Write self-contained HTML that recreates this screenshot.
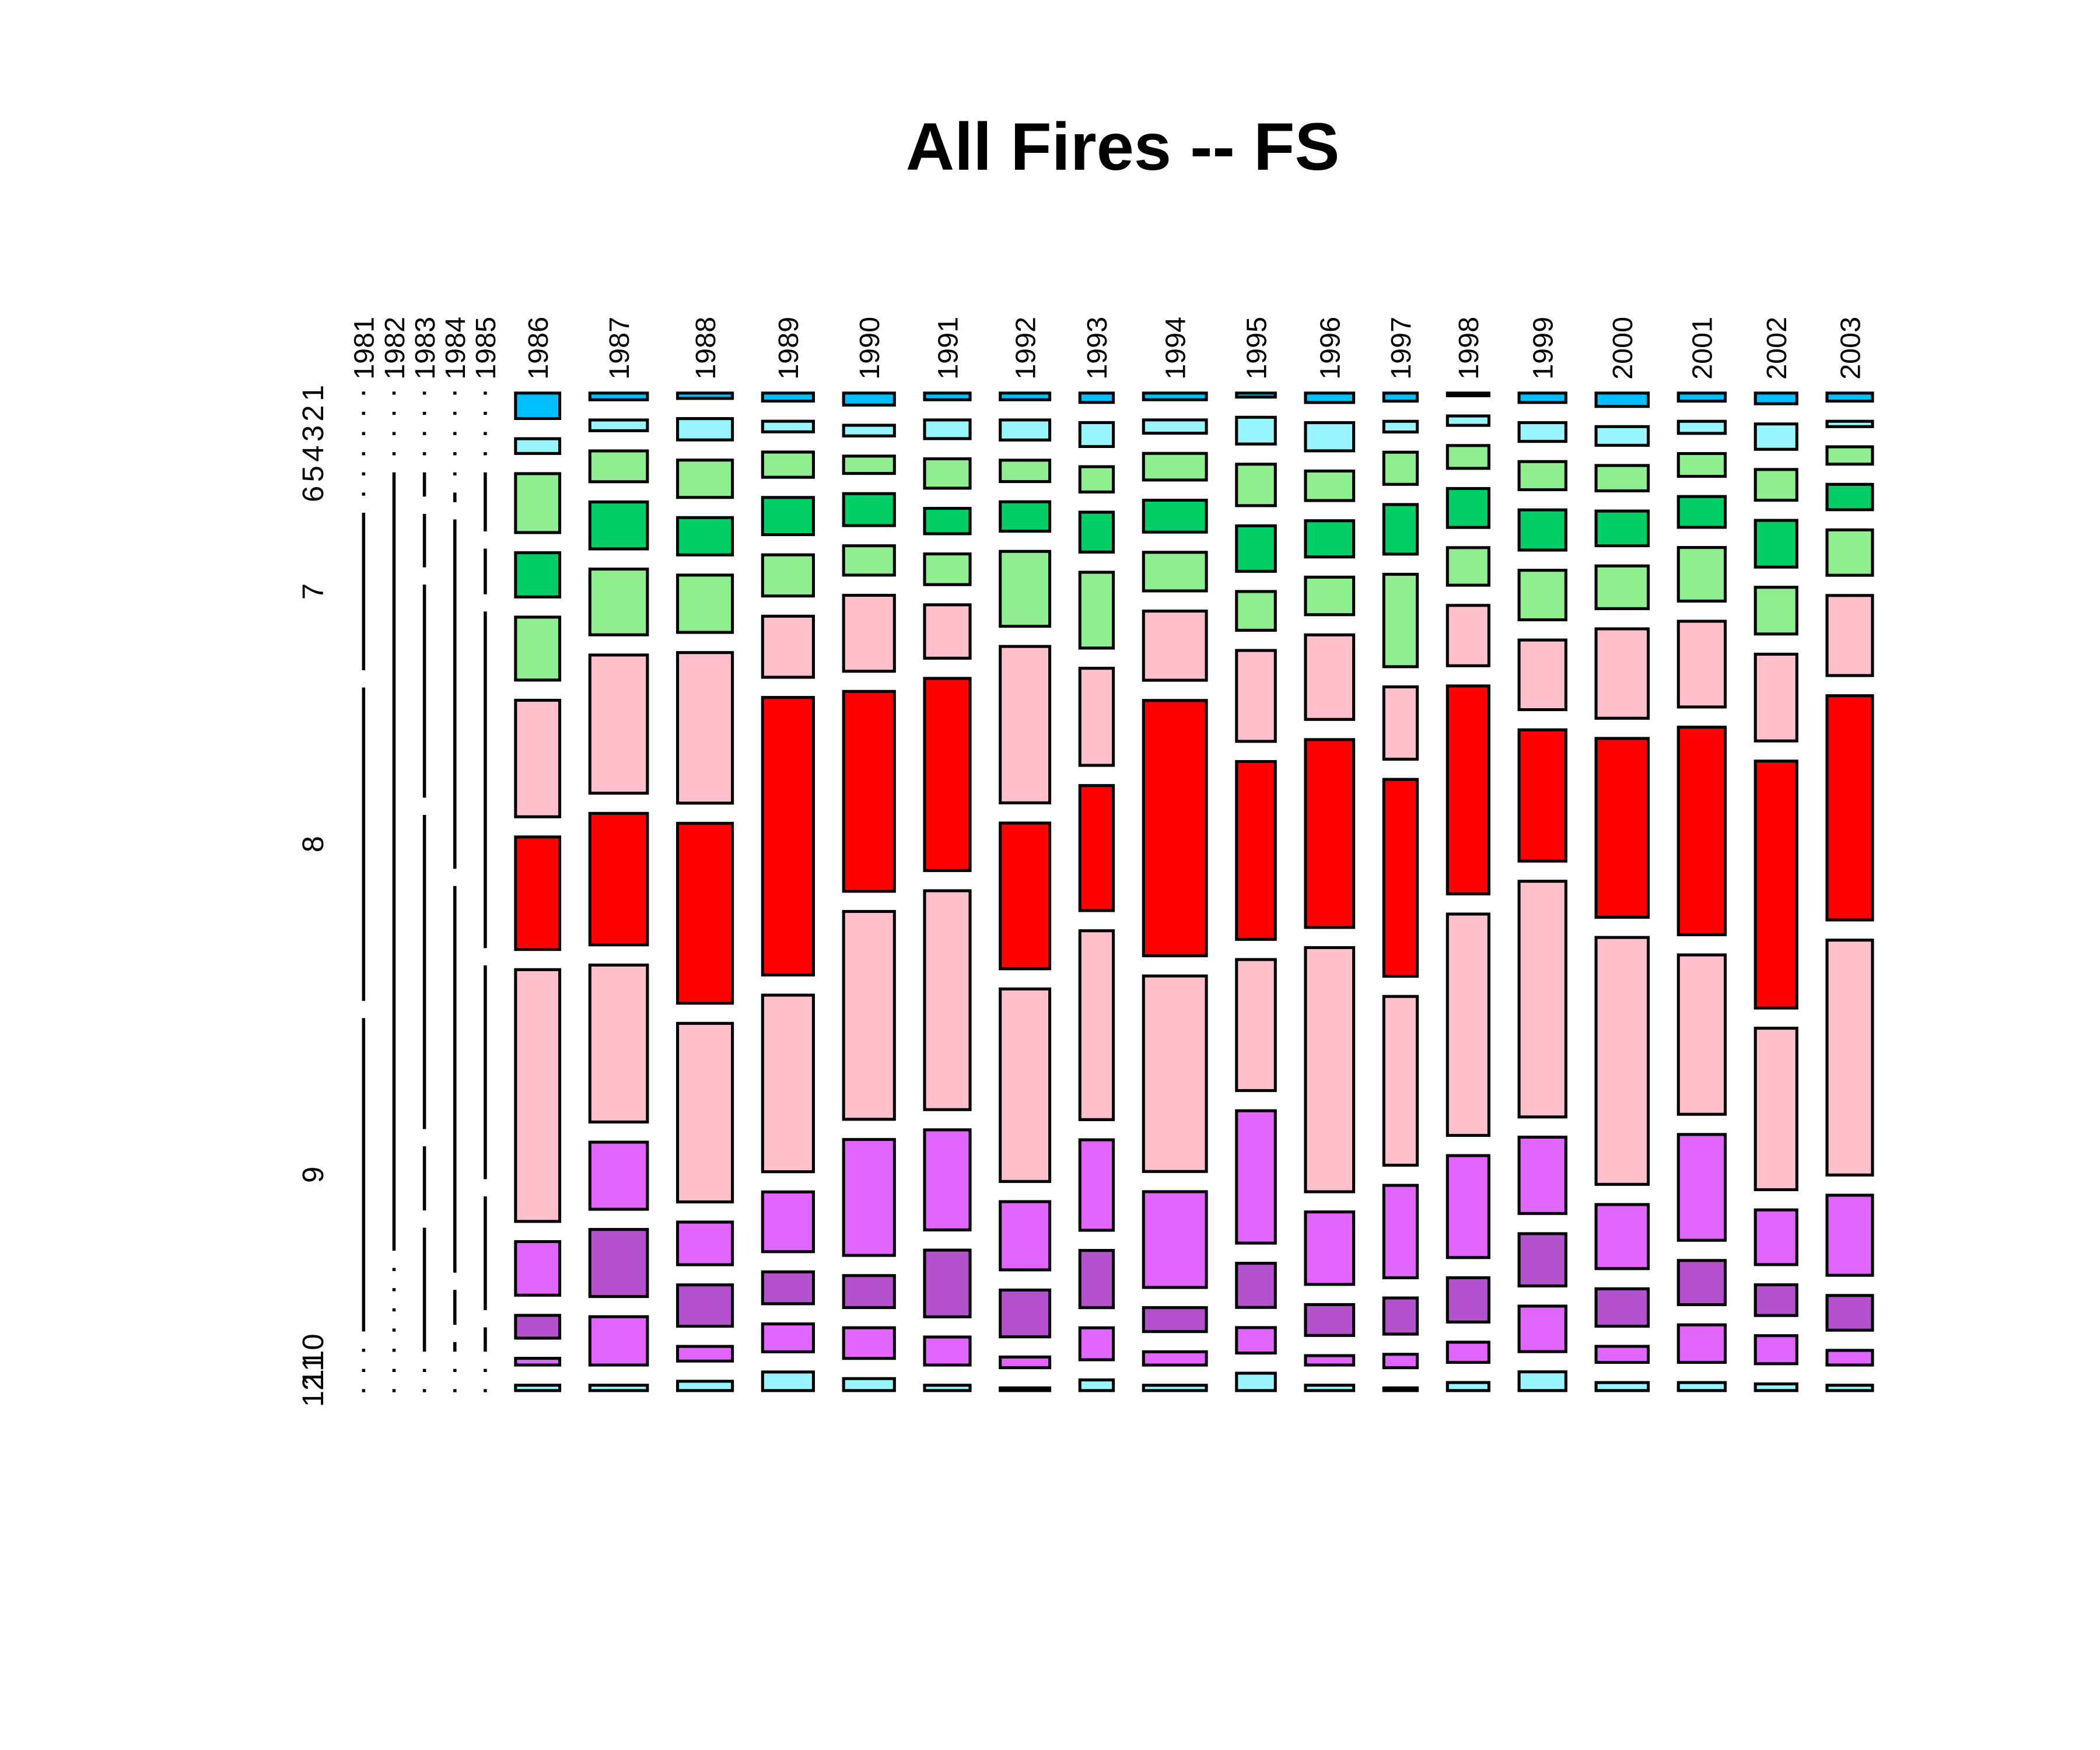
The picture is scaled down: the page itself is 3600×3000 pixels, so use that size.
<!DOCTYPE html>
<html><head><meta charset="utf-8">
<style>
html,body{margin:0;padding:0;background:#fff;}
svg{display:block;}
</style></head>
<body>
<svg id="chart" xmlns="http://www.w3.org/2000/svg" width="3600" height="3000" viewBox="0 0 1560 1300">
<rect x="0" y="0" width="1560" height="1300" fill="#fff"/>
<text x="834" y="126" text-anchor="middle" font-family="Liberation Sans, sans-serif" font-weight="bold" font-size="50">All Fires -- FS</text>
<g id="marks"></g>
<g id="labels"></g>
</svg>
<script>
const years = ["1981","1982","1983","1984","1985","1986","1987","1988","1989","1990","1991","1992","1993","1994","1995","1996","1997","1998","1999","2000","2001","2002","2003"];
const months = ["1","2","3","4","5","6","7","8","9","10","11","12"];
const yearTotals = [0.2,0.2,0.2,0.2,0.2,33,43,41,38,38,34,37,25,47,29,36,25,31,35,39,35,31,34];
const c1981 = [0,0,0,0,0,0,116,233,233,0,0,0];
const c1982 = [0,0,0,0,582,0,0,0,0,0,0,0];
const c1983 = [0,0,0,0,16,38,158,234,46,91,0,0];
const c1984 = [0,0,0,0,0,5,260,288,24,5,0,0];
const c1985 = [0,0,0,0,42,32,250,158,83,16,0,0];
const c1986 = [19,11,44,33,47,87,84,188,40,17,5,4];
const c1987 = [5,8,23,35,49,103,98,117,50,50,36,4];
const c1988 = [4,16,28,28,43,113,135,134,32,31,11,7];
const c1989 = [6,8,19,28,31,46,209,133,45,24,21,14];
const c1990 = [9,8,13,24,22,57,150,156,87,24,23,9];
const c1991 = [5,14,22,19,23,40,144,164,75,50,21,4];
const c1992 = [5,15,16,22,56,117,109,144,51,35,8,2];
const c1993 = [7,18,19,30,57,73,94,142,68,43,24,8];
const c1994 = [5,10,20,24,29,52,192,147,72,18,10,4];
const c1995 = [3,20,31,34,29,68,133,98,99,33,19,13];
const c1996 = [7,21,22,27,28,63,140,182,54,23,7,4];
const c1997 = [6,8,24,37,69,54,147,126,69,27,10,2];
const c1998 = [2,7,17,29,28,45,155,165,76,33,15,6];
const c1999 = [7,14,21,30,37,52,98,176,57,39,34,14];
const c2000 = [10,14,19,26,32,67,134,185,48,28,12,6];
const c2001 = [6,9,17,23,40,64,155,119,79,33,28,6];
const c2002 = [8,19,23,35,35,65,185,121,41,23,21,5];
const c2003 = [6,4,13,19,34,60,168,176,60,26,11,4];
const counts = [c1981,c1982,c1983,c1984,c1985,c1986,c1987,c1988,c1989,c1990,c1991,c1992,c1993,c1994,c1995,c1996,c1997,c1998,c1999,c2000,c2001,c2002,c2003];
const monthColors = ["#00BFFF","#98F5FF","#90EE90","#00CD66","#90EE90","#FFC0CB","#FF0000","#FFC0CB","#E066FF","#B452CD","#E066FF","#98F5FF"];

const NS = "http://www.w3.org/2000/svg";
const X0 = 270, X1 = 1391, Y0 = 292, Y1 = 1033, GX = 22.4, GY = 15;
const marks = document.getElementById("marks");
const labels = document.getElementById("labels");
const totalW = yearTotals.reduce((a,b)=>a+b,0);
const availW = (X1 - X0) - GX*(years.length-1);
const availH = (Y1 - Y0) - GY*(months.length-1);
function xScale(v){ return v / totalW * availW; }
let x = X0;
let firstCenters = [];
years.forEach((yr, i) => {
  const w = xScale(yearTotals[i]);
  const col = counts[i];
  const sum = col.reduce((a,b)=>a+b,0);
  let y = Y0;
  col.forEach((c, j) => {
    const h = c / sum * availH;
    const r = document.createElementNS(NS, "rect");
    r.setAttribute("x", x);
    r.setAttribute("y", y);
    r.setAttribute("width", Math.max(w, 0.1));
    r.setAttribute("height", Math.max(h, 0.1));
    r.setAttribute("fill", monthColors[j]);
    r.setAttribute("stroke", "#000");
    r.setAttribute("stroke-width", "2.2");
    
    
    marks.appendChild(r);
    if (i === 0) firstCenters.push(y + h/2);
    y += h + GY;
  });
  const cx = x + w/2;
  const t = document.createElementNS(NS, "text");
  t.setAttribute("transform", "translate(" + (cx + 7.5) + ",282) rotate(-90)");
  t.setAttribute("font-family", "Liberation Sans, sans-serif");
  t.setAttribute("font-size", "21");
  t.textContent = yr;
  
  
  labels.appendChild(t);
  x += w + GX;
});
months.forEach((m, j) => {
  const t = document.createElementNS(NS, "text");
  t.setAttribute("transform", "translate(240," + firstCenters[j] + ") rotate(-90)");
  t.setAttribute("text-anchor", "middle");
  t.setAttribute("font-family", "Liberation Sans, sans-serif");
  t.setAttribute("font-size", "22");
  t.textContent = m;
  
  
  labels.appendChild(t);
});
</script>
</body></html>
